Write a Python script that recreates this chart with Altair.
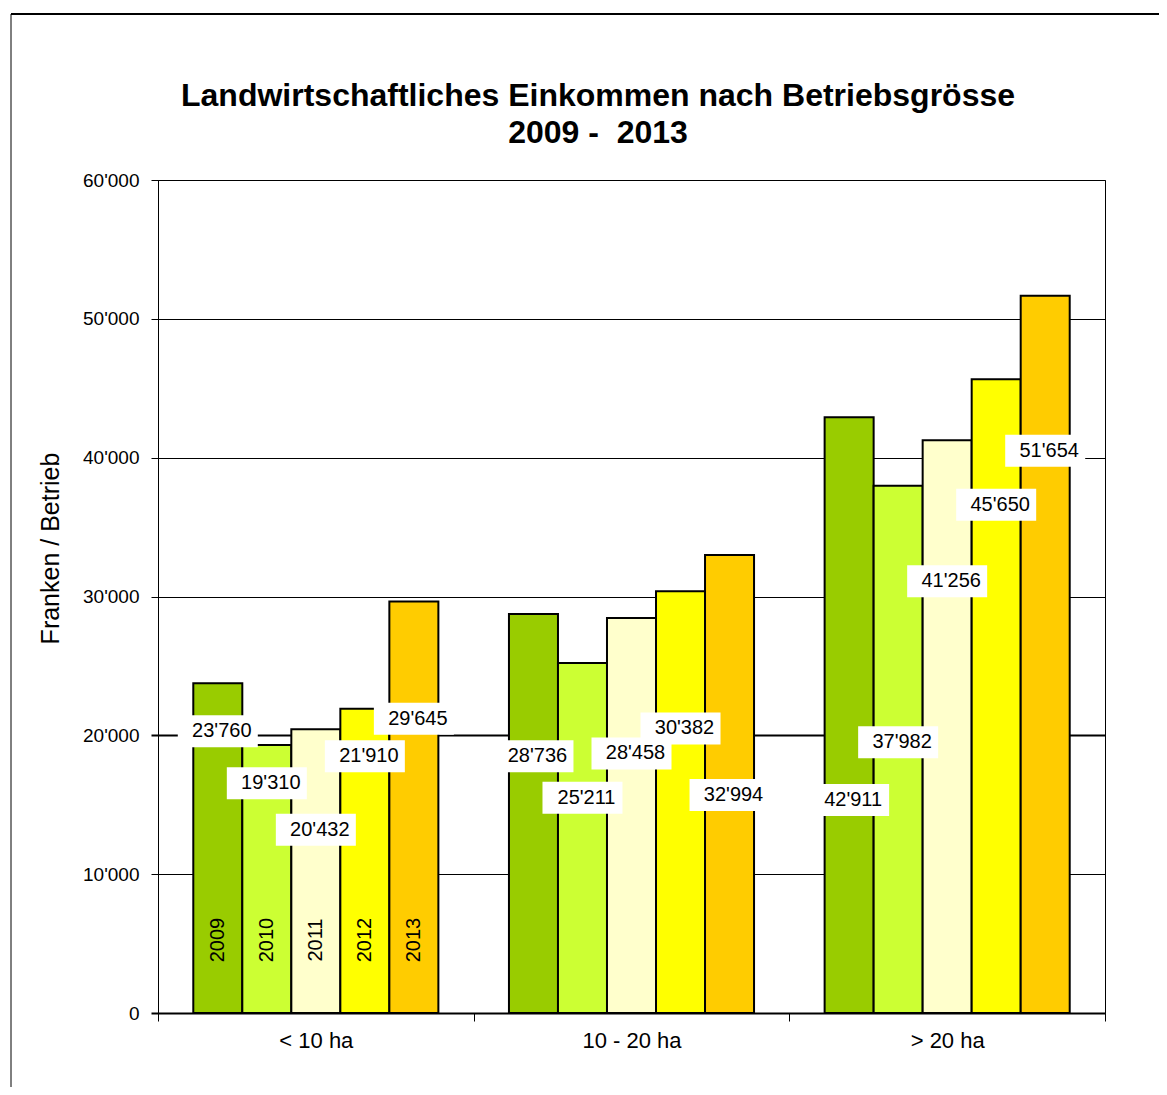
import altair as alt
import pandas as pd

# ---- data -------------------------------------------------------------
title_lines = ["Landwirtschaftliches Einkommen nach Betriebsgrösse", "2009 -\u00a0 2013"]
categories = ["< 10 ha", "10 - 20 ha", "> 20 ha"]
years = ["2009", "2010", "2011", "2012", "2013"]

income_2009 = [23760, 28736, 42911]
income_2010 = [19310, 25211, 37982]
income_2011 = [20432, 28458, 41256]
income_2012 = [21910, 30382, 45650]
income_2013 = [29645, 32994, 51654]

# height (in Franken) at which each data label box sits, as dragged in the original
labelpos_2009 = [20300, 18500, 15350]
labelpos_2010 = [16550, 15500, 19500]
labelpos_2011 = [13200, 18700, 31100]
labelpos_2012 = [18500, 20500, 36600]
labelpos_2013 = [21200, 15700, 40500]

year_label_level = 5250  # level of the rotated year captions in the first group

colors = ["#99CC00", "#CCFF33", "#FFFFCC", "#FFFF00", "#FFCC00"]

series = [income_2009, income_2010, income_2011, income_2012, income_2013]
labelpos = [labelpos_2009, labelpos_2010, labelpos_2011, labelpos_2012, labelpos_2013]

rows = []
for yi, yr in enumerate(years):
    for ci, cat in enumerate(categories):
        v = series[yi][ci]
        rows.append({
            "category": cat,
            "year": yr,
            "value": v,
            "label": f"{v:,}".replace(",", "'"),
            "label_y": labelpos[yi][ci],
        })
df = pd.DataFrame(rows)

FONT = "Liberation Sans"

x_enc = alt.X(
    "category:N",
    sort=categories,
    scale=alt.Scale(paddingInner=0, paddingOuter=0),
    axis=alt.Axis(
        title=None,
        labelAngle=0,
        labelFontSize=22,
        labelFont=FONT,
        labelColor="black",
        labelPadding=9,
        tickBand="extent",
        tickSize=8,
        tickColor="black",
        tickWidth=1,
        domainColor="black",
        domainWidth=2,
        grid=False,
    ),
)
xoff_enc = alt.XOffset(
    "year:N", sort=years, scale=alt.Scale(paddingInner=0, paddingOuter=0.72)
)
y_axis = alt.Axis(
    values=[0, 10000, 20000, 30000, 40000, 50000, 60000],
    labelExpr="replace(format(datum.value, ','), ',', \"'\")",
    labelFontSize=19,
    labelFont=FONT,
    labelColor="black",
    labelPadding=12,
    tickSize=7,
    tickColor="black",
    tickWidth={"condition": {"test": "datum.value === 20000 || datum.value === 0", "value": 2}, "value": 1},
    domainColor="black",
    domainWidth=1,
    grid=True,
    gridColor="black",
    gridOpacity=1,
    gridWidth={"condition": {"test": "datum.value === 20000", "value": 2}, "value": 1},
    title="Franken / Betrieb",
    titleFont=FONT,
    titleFontSize=25,
    titleFontWeight="normal",
    titleColor="black",
    titleAngle=270,
    titleAlign="center",
    titleBaseline="middle",
    titleX=-108,
    titleY=368,
)
y_scale = alt.Scale(domain=[0, 60000], nice=False)

base = alt.Chart(df)

bars = base.mark_bar(stroke="black", strokeWidth=2).encode(
    x=x_enc,
    xOffset=xoff_enc,
    y=alt.Y("value:Q", scale=y_scale, axis=y_axis),
    color=alt.Color("year:N", scale=alt.Scale(domain=years, range=colors), legend=None),
)

boxes = base.mark_point(
    shape="M-1,-0.4L1,-0.4L1,0.4L-1,0.4Z",
    size=6400,
    filled=True,
    fill="white",
    opacity=1,
    strokeWidth=0,
    xOffset=4,
).encode(
    x=alt.X("category:N", sort=categories),
    xOffset=alt.XOffset("year:N", sort=years),
    y=alt.Y("label_y:Q", scale=y_scale),
)

labels = base.mark_text(
    font=FONT, fontSize=20, color="black", baseline="middle", align="center", dx=4
).encode(
    x=alt.X("category:N", sort=categories),
    xOffset=alt.XOffset("year:N", sort=years),
    y=alt.Y("label_y:Q", scale=y_scale),
    text="label:N",
)

year_text = base.transform_filter(
    alt.datum.category == categories[0]
).mark_text(
    font=FONT, fontSize=20, color="black", angle=270, baseline="middle", align="center"
).encode(
    x=alt.X("category:N", sort=categories),
    xOffset=alt.XOffset("year:N", sort=years),
    y=alt.datum(year_label_level),
    text="year:N",
)

single = pd.DataFrame({"k": [0]})
title_text = alt.Chart(single).mark_text(
    font=FONT, fontSize=32, fontWeight="bold", color="black",
    align="center", baseline="alphabetic", lineHeight=37,
).encode(
    x=alt.value(440), y=alt.value(-74), text=alt.value(title_lines)
)

frame_top = alt.Chart(single).mark_rule(color="black", strokeWidth=2).encode(
    x=alt.value(-147), x2=alt.value(1009), y=alt.value(-166)
)
frame_left = alt.Chart(single).mark_rule(color="black", strokeWidth=1).encode(
    x=alt.value(-147), y=alt.value(-166), y2=alt.value(915)
)

chart = alt.layer(
    bars, boxes, labels, year_text, title_text, frame_top, frame_left
).properties(
    width=947,
    height=833,
    padding={"left": 150, "top": 172, "right": 54, "bottom": 74},
    autosize=alt.AutoSizeParams(type="none"),
    background="white",
).configure_view(stroke="black", strokeWidth=1)

chart.save("out.html", embed_options={"renderer": "svg", "actions": False})
